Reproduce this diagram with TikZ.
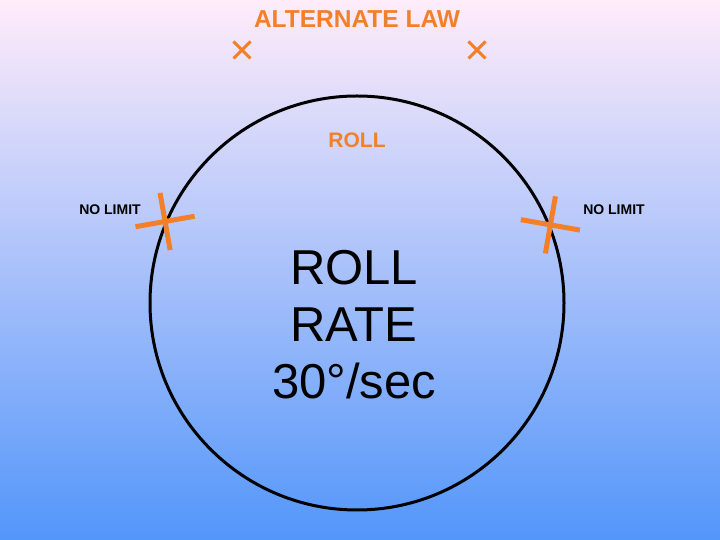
\documentclass[tikz,border=0pt]{standalone}
\usepackage{fontspec}
\setmainfont{Liberation Sans}
\usetikzlibrary{positioning,calc}
\definecolor{laworange}{RGB}{243,128,40}
\definecolor{skytop}{RGB}{255,236,250}
\definecolor{skybottom}{RGB}{82,150,250}
\tikzset{
  orangetext/.style={text=laworange, font=\bfseries},
  limitmark/.style={draw=laworange, line width=5pt},
  xmark/.style={draw=laworange, line width=3pt},
}
\begin{document}
\begin{tikzpicture}[x=1pt, y=1pt]
	\shade[top color=skytop, bottom color=skybottom] (0,0) rectangle (720,540);
	\useasboundingbox (0,0) rectangle (720,540);
	\node[orangetext, font=\bfseries\fontsize{24.5}{28}\selectfont] (law) at (357,521) {ALTERNATE LAW};
	\coordinate (xleft) at (242,490);
	\coordinate (xright) at (477,490);
	\draw[xmark] ($(xleft)+(-8.5,-8.5)$) -- ($(xleft)+(8.5,8.5)$) ($(xleft)+(-8.5,8.5)$) -- ($(xleft)+(8.5,-8.5)$);
	\draw[xmark] ($(xright)+(-8.5,-8.5)$) -- ($(xright)+(8.5,8.5)$) ($(xright)+(-8.5,8.5)$) -- ($(xright)+(8.5,-8.5)$);
	\node[draw, circle, line width=3pt, minimum size=414pt] (dial) at (357,237) {};
	\node[orangetext, font=\bfseries\fontsize{21}{24}\selectfont] (roll) at (357,400) {ROLL};
	\node[font=\bfseries\fontsize{14}{16}\selectfont] (limitleft) at (110,330) {NO LIMIT};
	\node[font=\bfseries\fontsize{14}{16}\selectfont] (limitright) at (614,330) {NO LIMIT};
	% limit marks on the dial
	\coordinate (markleft) at (dial.157.4);
	\coordinate (markright) at (dial.22.6);
	\draw[limitmark, rotate around={10:(markleft)}] ($(markleft)+(-30,0)$) -- ($(markleft)+(30,0)$) ($(markleft)+(0,29)$) -- ($(markleft)+(0,-29)$);
	\draw[limitmark, rotate around={-10:(markright)}] ($(markright)+(-30,0)$) -- ($(markright)+(30,0)$) ($(markright)+(0,29)$) -- ($(markright)+(0,-29)$);
	\node[align=center, font=\fontsize{49}{57}\selectfont] (rate) at (354,215) {ROLL\\RATE\\30°/sec};
\end{tikzpicture}
\end{document}
